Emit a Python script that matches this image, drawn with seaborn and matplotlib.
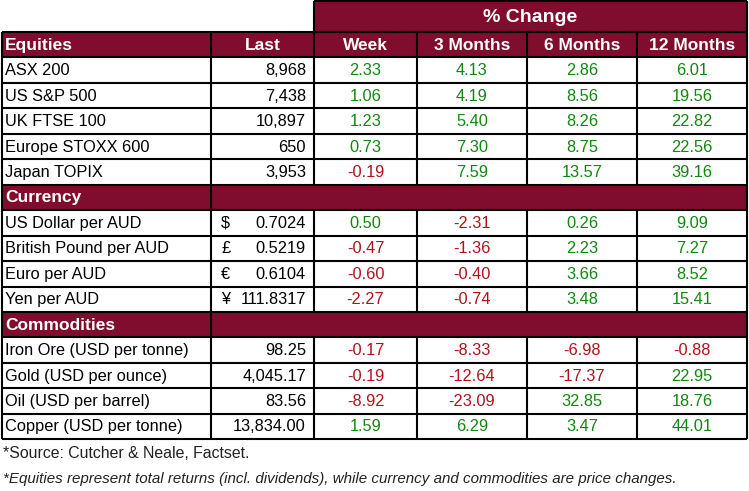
import numpy as np
import seaborn as sns
import matplotlib.pyplot as plt
from matplotlib.colors import ListedColormap

# table values
periods = ["Week", "3 Months", "6 Months", "12 Months"]

equities = ["ASX 200", "US S&P 500", "UK FTSE 100", "Europe STOXX 600", "Japan TOPIX"]
equity_last = [8968, 7438, 10897, 650, 3953]
equity_chg = [[2.33, 4.13, 2.86, 6.01],
              [1.06, 4.19, 8.56, 19.56],
              [1.23, 5.40, 8.26, 22.82],
              [0.73, 7.30, 8.75, 22.56],
              [-0.19, 7.59, 13.57, 39.16]]

currencies = ["US Dollar per AUD", "British Pound per AUD", "Euro per AUD", "Yen per AUD"]
currency_sym = ["$", "£", "€", "¥"]
currency_last = ["0.7024", "0.5219", "0.6104", "111.8317"]
currency_chg = [[0.50, -2.31, 0.26, 9.09],
                [-0.47, -1.36, 2.23, 7.27],
                [-0.60, -0.40, 3.66, 8.52],
                [-2.27, -0.74, 3.48, 15.41]]

commodities = ["Iron Ore (USD per tonne)", "Gold (USD per ounce)",
               "Oil (USD per barrel)", "Copper (USD per tonne)"]
commodity_last = [98.25, 4045.17, 83.56, 13834.00]
commodity_chg = [[-0.17, -8.33, -6.98, -0.88],
                 [-0.19, -12.64, -17.37, 22.95],
                 [-8.92, -23.09, 32.85, 18.76],
                 [1.59, 6.29, 3.47, 44.01]]

source_note = "*Source: Cutcher & Neale, Factset."
returns_note = "*Equities represent total returns (incl. dividends), while currency and commodities are price changes."

MAROON = "#800D2D"
GREEN = "#12870F"
RED = "#B0121C"

sns.set_theme(style="white")
plt.rcParams['font.family'] = ['Liberation Sans', 'DejaVu Sans']

# build the row list: (kind, label, last_symbol, last_text, changes)
rows = [("head", "Equities", "", "Last", None)]
for name, last, chg in zip(equities, equity_last, equity_chg):
    rows.append(("data", name, "", f"{last:,.0f}", chg))
rows.append(("section", "Currency", "", "", None))
for name, sym, last, chg in zip(currencies, currency_sym, currency_last, currency_chg):
    rows.append(("data", name, sym, last, chg))
rows.append(("section", "Commodities", "", "", None))
for name, last, chg in zip(commodities, commodity_last, commodity_chg):
    rows.append(("data", name, "", f"{last:,.2f}", chg))

# layout in pixel coordinates
x_edges = np.array([2, 211, 314, 417, 527, 637, 747])
row_h = 25.45
y0 = 32
y_edges = y0 + row_h * np.arange(len(rows) + 1)
fs = 11.8
fs_head = 12.5

fig = plt.figure(figsize=(7.49, 4.91), dpi=100)
ax = fig.add_axes([0, 0, 1, 1])
ax.set_xlim(0, 749)
ax.set_ylim(491, 0)
ax.axis("off")

# cell backgrounds: 0 white, 1 maroon
codes = np.array([[1 if kind != "data" else 0] * 6 for kind, *_ in rows])
ax.pcolormesh(x_edges, y_edges, codes, cmap=ListedColormap(["white", MAROON]),
              vmin=0, vmax=1, zorder=1)

# "% Change" banner
ax.fill_between([x_edges[2], x_edges[-1]], 1, y0, color=MAROON, zorder=1, lw=0)
ax.text((x_edges[2] + x_edges[-1]) / 2, (1 + y0) / 2 + 1, "% Change", color="white",
        fontsize=14, fontweight="bold", ha="center", va="center", zorder=3)

lw = 1.5
for i, (kind, label, sym, last, chg) in enumerate(rows):
    top, bot = y_edges[i], y_edges[i + 1]
    yc = (top + bot) / 2 + 0.5
    if kind == "data":
        ax.vlines(x_edges, top, bot, color="black", lw=lw, zorder=4)
        ax.text(5, yc, label, fontsize=fs, color="black", ha="left", va="center", zorder=3)
        if sym:
            ax.text(221, yc, sym, fontsize=fs, color="black", ha="left", va="center", zorder=3)
        ax.text(306, yc, last, fontsize=fs, color="black", ha="right", va="center", zorder=3)
        for j, v in enumerate(chg):
            xc = (x_edges[j + 2] + x_edges[j + 3]) / 2
            ax.text(xc, yc, f"{v:.2f}", fontsize=fs, color=GREEN if v >= 0 else RED,
                    ha="center", va="center", zorder=3)
    elif kind == "head":
        ax.vlines(x_edges, top, bot, color="black", lw=lw, zorder=4)
        ax.text(5, yc, label, fontsize=fs_head, color="white", fontweight="bold",
                ha="left", va="center", zorder=3)
        ax.text((x_edges[1] + x_edges[2]) / 2, yc, last, fontsize=fs_head, color="white",
                fontweight="bold", ha="center", va="center", zorder=3)
        for j, p in enumerate(periods):
            xc = (x_edges[j + 2] + x_edges[j + 3]) / 2
            ax.text(xc, yc, p, fontsize=fs_head, color="white", fontweight="bold",
                    ha="center", va="center", zorder=3)
    else:
        ax.vlines([x_edges[0], x_edges[1], x_edges[-1]], top, bot, color="black", lw=lw, zorder=4)
        ax.text(5, yc, label, fontsize=fs_head, color="white", fontweight="bold",
                ha="left", va="center", zorder=3)

ax.hlines(y_edges, x_edges[0], x_edges[-1], color="black", lw=lw, zorder=4)
ax.hlines([1, y0], x_edges[2], x_edges[-1], color="black", lw=lw, zorder=4)
ax.vlines([x_edges[2], x_edges[-1]], 1, y0, color="black", lw=lw, zorder=4)

ax.text(3, 453, source_note, fontsize=11.4, color="#222222", ha="left", va="center")
ax.text(3, 479, returns_note, fontsize=10.9, color="#222222", style="italic",
        ha="left", va="center")

fig.savefig("out.png", dpi=100)
